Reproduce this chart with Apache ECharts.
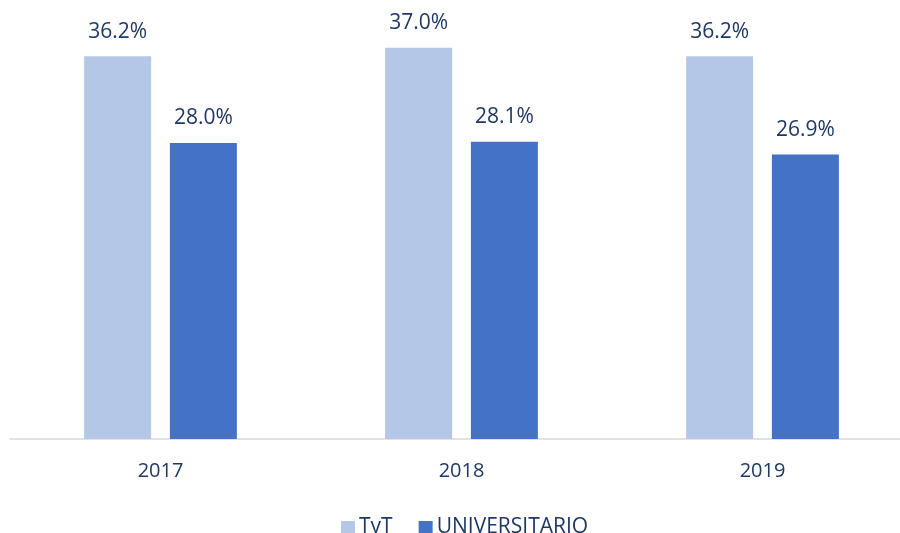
<!DOCTYPE html>
<html>
<head>
<meta charset="utf-8">
<script src="https://cdn.jsdelivr.net/npm/echarts@6/dist/echarts.min.js"></script>
<style>html,body{margin:0;padding:0;background:#fff}#c{width:900px;height:533px}</style>
</head>
<body>
<div id="c"></div>
<script>
const categories = ['2017', '2018', '2019'];
const tytValues = [36.2, 37.0, 36.2];
const univValues = [28.0, 28.1, 26.9];
const seriesNames = ['TyT', 'UNIVERSITARIO'];

const textColor = '#1F3864';
const font = 'Open Sans';
const chart = echarts.init(document.getElementById('c'));
const labelCfg = {
  show: true, position: 'top', distance: 14,
  color: textColor, fontFamily: font, fontSize: 21,
  formatter: p => p.value.toFixed(1) + '%'
};
chart.setOption({
  animation: false,
  textStyle: { fontFamily: font },
  grid: { left: 10, width: 903, top: 16, height: 423, containLabel: false, outerBoundsMode: 'none' },
  legend: {
    top: 512, left: 336,
    itemWidth: 14, itemHeight: 13, itemGap: 26,
    icon: 'rect',
    textStyle: { color: textColor, fontFamily: font, fontSize: 21, padding: [0, 0, 0, -1] },
    data: seriesNames
  },
  xAxis: {
    type: 'category', data: categories,
    axisLine: { lineStyle: { color: '#D9D9D9', width: 1.5 } },
    axisTick: { show: false },
    axisLabel: { color: textColor, fontFamily: font, fontSize: 20, margin: 22 }
  },
  yAxis: {
    type: 'value', min: 0, max: 40,
    show: false, splitLine: { show: false }
  },
  series: [
    { name: seriesNames[0], type: 'bar', data: tytValues, barWidth: 67, barGap: '28%',
      itemStyle: { color: '#B4C7E7' }, label: labelCfg },
    { name: seriesNames[1], type: 'bar', data: univValues, barWidth: 67,
      itemStyle: { color: '#4472C4' }, label: labelCfg }
  ]
});
</script>
</body>
</html>
